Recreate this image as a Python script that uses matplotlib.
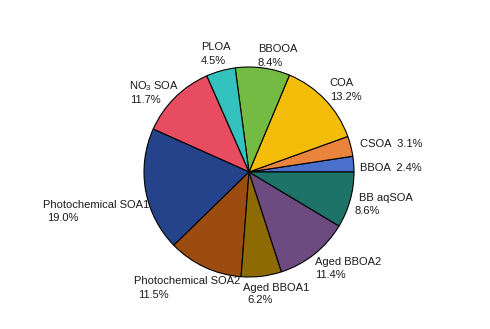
import matplotlib
matplotlib.use("Agg")
import matplotlib.pyplot as plt

plt.rcParams['font.family'] = ['Liberation Sans', 'DejaVu Sans']
plt.rcParams['mathtext.fontset'] = 'custom'
plt.rcParams['mathtext.rm'] = 'Liberation Sans'
plt.rcParams['mathtext.it'] = 'Liberation Sans'

categories = ["BBOA", "CSOA", "COA", "BBOOA", "PLOA", "NO$_3$ SOA",
              "Photochemical SOA1", "Photochemical SOA2", "Aged BBOA1",
              "Aged BBOA2", "BB aqSOA"]
values = [2.4, 3.1, 13.2, 8.4, 4.5, 11.7, 19.0, 11.5, 6.2, 11.4, 8.6]
colors = ["#4a70cc", "#ea843c", "#f4bd0a", "#74bb44", "#33c2bd", "#e74c60",
          "#25438a", "#9c4b11", "#8d6a03", "#6d4a7f", "#1e7368"]

# label layout in pixels: (name x, name baseline y, percent x, percent baseline y)
# percent x = None -> percent on the same line as the name
label_pos = [(360, 170.7, None, None), (360, 146.7, None, None),
             (329, 86.5, 330, 99.5), (258, 51.5, 258, 65.5),
             (201, 50, 201, 63.5), (129, 89, 130, 103),
             (43, 208.3, 47, 220.7), (134, 284, 138, 298.5),
             (243, 290.7, 247, 303.3), (315, 264.8, 315, 277.5),
             (359, 200.8, 354, 213.5)]

W, H = 490, 329
cx, cy, r = 249, 172, 105

fig = plt.figure(figsize=(W / 100, H / 100), dpi=100)
ax = fig.add_axes([0, 0, 1, 1])
ax.pie(values, colors=colors, startangle=0, counterclock=True,
       wedgeprops=dict(edgecolor="black", linewidth=0.8))
ax.set_xlim(-cx / r, (W - cx) / r)
ax.set_ylim(-(H - cy) / r, cy / r)
ax.axis("off")

kw = dict(ha="left", va="baseline", fontsize=8, color="#1a1a1a")
for cat, val, (px, py, qx, qy) in zip(categories, values, label_pos):
    if qx is None:
        fig.text(px / W, 1 - py / H, f"{cat}  {val:.1f}%", **kw)
    else:
        fig.text(px / W, 1 - py / H, cat, **kw)
        fig.text(qx / W, 1 - qy / H, f"{val:.1f}%", **kw)

fig.savefig("out.png", dpi=100)
